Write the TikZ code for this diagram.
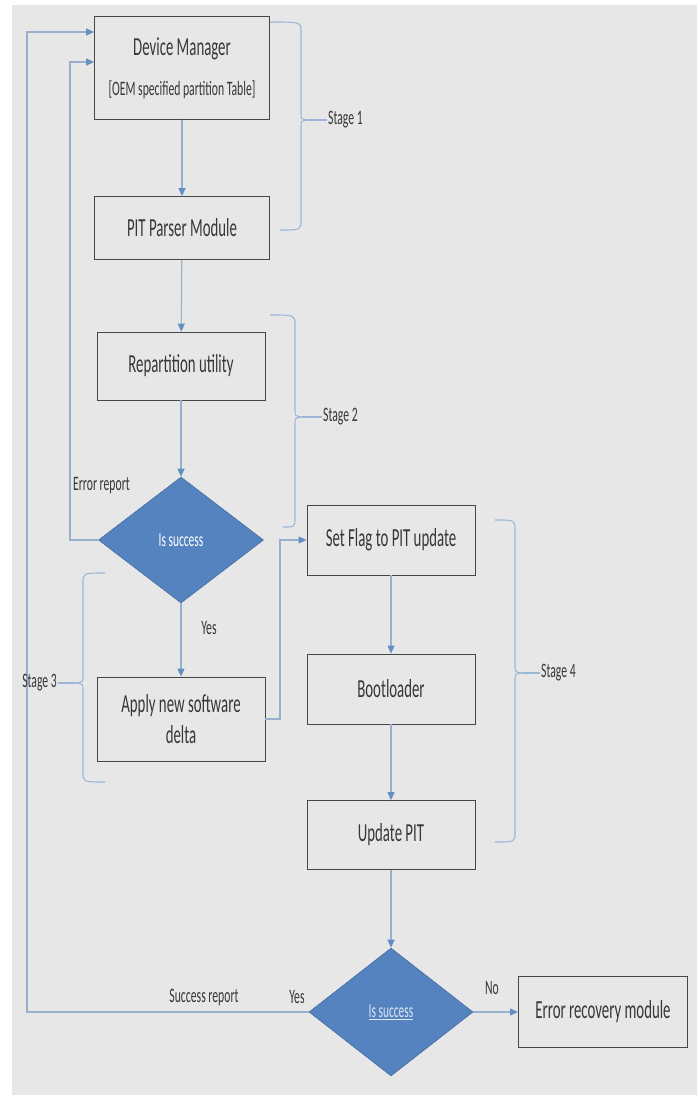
\documentclass[tikz,border=0pt]{standalone}
\usepackage{fontspec}
\setmainfont{Carlito}[FakeStretch=0.57]
\usepackage{xcolor}
\usepackage{tikz}
\usetikzlibrary{shapes.geometric, arrows.meta, positioning, calc}

\definecolor{bgGray}{RGB}{231,231,231}
\definecolor{boxLine}{RGB}{70,70,70}
\definecolor{txtGray}{RGB}{55,55,55}
\definecolor{decBlue}{RGB}{84,131,191}
\definecolor{decEdge}{RGB}{70,110,160}
\definecolor{lineBlue}{RGB}{152,176,206}
\definecolor{tipBlue}{RGB}{100,143,195}
\definecolor{braceBlue}{RGB}{155,182,214}

% right/left stage brace: dir, top end x, bottom end x, spine x, top y, mid y, bottom y, tip name
\newcommand{\stagebrace}[8]{%
  \coordinate (#8) at ({#4+(#1)*7},#6);
  \draw[bracket] (#2,#5) .. controls (#4,#5) .. (#4,#5+10)
    -- (#4,#6-7) .. controls (#4,#6-1) .. (#8)
    .. controls (#4,#6+1) .. (#4,#6+7)
    -- (#4,#7-10) .. controls (#4,#7) .. (#3,#7);}

\begin{document}
\begin{tikzpicture}[
    x=1pt, y=-1pt,
    box/.style={rectangle, draw=boxLine, line width=0.8pt, font=\fontsize{26}{28}\selectfont, text=txtGray, align=center, inner sep=2pt},
    decision/.style={diamond, fill=decBlue, draw=decEdge, line width=0.6pt, inner sep=0pt, font=\fontsize{20}{22}\selectfont, text=white},
    lbl/.style={font=\fontsize{20.5}{22}\selectfont, text=txtGray, inner sep=1pt},
    arrowline/.style={draw=lineBlue, line width=1.1pt, -{Triangle[length=8pt, width=7pt, color=tipBlue]}},
    bracket/.style={draw=braceBlue, line width=1.1pt}
]
\fill[white] (0,0) rectangle (697,1095);
\fill[bgGray] (12,5) rectangle (697,1095);
\useasboundingbox (0,0) rectangle (697,1095);

% left column
\node[box, minimum width=175pt, minimum height=103pt] (dm) at (182,68) {Device Manager\\[12pt]{\fontsize{20.5}{22}\selectfont [OEM specified partition Table]}};
\node[box, minimum width=175pt, minimum height=63pt] (pit) at (182,228) {PIT Parser Module};
\node[box, minimum width=168pt, minimum height=68pt] (rep) at (181,366) {Repartition utility};
\node[decision, minimum width=165pt, minimum height=126pt] (dec1) at (181,540) {Is success};
\node[box, minimum width=168pt, minimum height=84pt] (apply) at (181,719) {Apply new software\\[3pt]delta};

% right column
\node[box, minimum width=168pt, minimum height=70pt] (flag) at (391,540) {Set Flag to PIT update};
\node[box, minimum width=168pt, minimum height=70pt] (boot) at (391,689) {Bootloader};
\node[box, minimum width=168pt, minimum height=69pt] (upd) at (391,835) {Update PIT};
\node[decision, minimum width=164pt, minimum height=128pt, text=white!80!decBlue] (dec2) at (391,1012) {\underline{Is success}};
\node[box, minimum width=169pt, minimum height=71pt] (err) at (603,1012) {Error recovery module};

% labels
\node[lbl, anchor=west] (errlbl) at (72,486) {Error report};
\node[lbl] (yes1) at (209,628) {Yes};
\node[lbl] (succlbl) at (204,997) {Success report};
\node[lbl] (yes2) at (297,997) {Yes};
\node[lbl] (no2) at (492,988) {No};

\coordinate (errx) at (70,0);
\coordinate (succx) at (27,0);
\coordinate (jog) at (280,0);

% flow
\draw[arrowline] (dm) -- (pit);
\draw[arrowline] (pit) -- (rep);
\draw[arrowline] (rep) -- (dec1);
\draw[arrowline] (dec1) -- (apply);
\draw[arrowline] (apply.east) -- (apply.east -| jog) |- (flag.west);
\draw[arrowline] (flag) -- (boot);
\draw[arrowline] (boot) -- (upd);
\draw[arrowline] (upd) -- (dec2);
\draw[arrowline] (dec2) -- (err);
\draw[arrowline] (dec1.west) -- (dec1.west -| errx) |- ([yshift=6pt]dm.west);
\draw[arrowline] (dec2.west) -- (dec2.west -| succx) |- ([yshift=36pt]dm.west);

% stages
\stagebrace{1}{270}{280}{301}{22}{120}{230}{tip1}
\stagebrace{1}{270}{283}{295}{315}{417}{527}{tip2}
\stagebrace{-1}{105}{105}{83}{573}{683}{782}{tip3}
\stagebrace{1}{495}{495}{515}{520}{673}{842}{tip4}
\node[lbl, anchor=west] (st1) at (327,120) {Stage 1};
\node[lbl, anchor=west] (st2) at (322,417) {Stage 2};
\node[lbl, anchor=east] (st3) at (58,683) {Stage 3};
\node[lbl, anchor=west] (st4) at (540,673) {Stage 4};
\draw[bracket] (tip1) -- (st1.west);
\draw[bracket] (tip2) -- (st2.west);
\draw[bracket] (tip3) -- (st3.east);
\draw[bracket] (tip4) -- (st4.west);
\end{tikzpicture}
\end{document}
